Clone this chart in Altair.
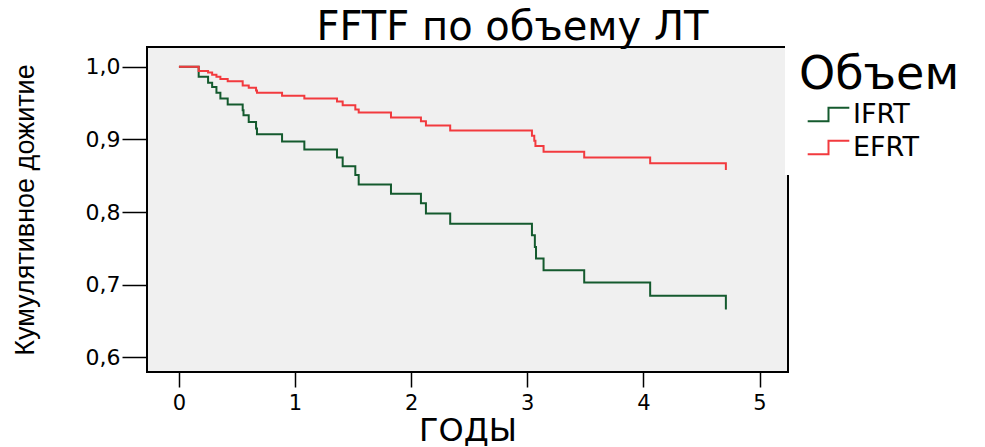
import altair as alt
import pandas as pd

# Kaplan-Meier estimates (years, cumulative survival) per group
ifrt_t = [0, 0.17, 0.251, 0.286, 0.323, 0.357, 0.42, 0.549, 0.556, 0.601, 0.664, 0.672,
          0.888, 1.08, 1.361, 1.41, 1.519, 1.548, 1.826, 2.084, 2.127, 2.336, 3.04,
          3.065, 3.075, 3.14, 3.49, 4.058, 4.71]
ifrt_s = [1.0, 0.986, 0.978, 0.972, 0.964, 0.956, 0.948, 0.940, 0.933, 0.924, 0.915, 0.907,
          0.897, 0.886, 0.875, 0.863, 0.851, 0.838, 0.825, 0.812, 0.798, 0.784, 0.768,
          0.752, 0.736, 0.720, 0.703, 0.685, 0.666]

efrt_t = [0, 0.17, 0.251, 0.286, 0.323, 0.357, 0.42, 0.549, 0.601, 0.664, 0.672, 0.888,
          1.08, 1.361, 1.41, 1.519, 1.548, 1.826, 2.084, 2.127, 2.336, 3.04, 3.06, 3.07,
          3.14, 3.49, 4.058, 4.71]
efrt_s = [1.0, 0.994, 0.992, 0.989, 0.986, 0.983, 0.980, 0.974, 0.971, 0.967, 0.964, 0.960,
          0.956, 0.952, 0.947, 0.941, 0.937, 0.930, 0.925, 0.919, 0.912, 0.905, 0.898, 0.891,
          0.883, 0.875, 0.867, 0.858]

groups = ["IFRT", "EFRT"]
colors = ["#145a2e", "#f23a3e"]
y_ticks = [0.6, 0.7, 0.8, 0.9, 1.0]
x_ticks = [0, 1, 2, 3, 4, 5]

df = pd.concat([
    pd.DataFrame({"t": ifrt_t, "s": ifrt_s, "g": "IFRT", "o": range(len(ifrt_t))}),
    pd.DataFrame({"t": efrt_t, "s": efrt_s, "g": "EFRT", "o": range(len(efrt_t))}),
])

WIDE = "DejaVu Sans"

chart = alt.Chart(df).mark_line(interpolate="step-after", strokeWidth=2, clip=True).encode(
    x=alt.X("t:Q",
            scale=alt.Scale(domain=[-0.275, 5.245], nice=False, zero=False),
            axis=alt.Axis(title="ГОДЫ", values=x_ticks, format="d", grid=False, domain=False,
                          tickSize=15, tickColor="black", tickWidth=1.5,
                          labelFont=WIDE, labelFontSize=21, labelColor="black", labelPadding=5,
                          titleFont=WIDE, titleFontSize=32, titleFontWeight="normal",
                          titleColor="black", titlePadding=2)),
    y=alt.Y("s:Q",
            scale=alt.Scale(domain=[0.58, 1.027], nice=False, zero=False),
            axis=alt.Axis(title="Кумулятивное дожитие", values=y_ticks,
                          labelExpr="replace(format(datum.value, '.1f'), '.', ',')",
                          grid=False, domain=False,
                          tickSize=25, tickColor="black", tickWidth=1.5,
                          labelFont=WIDE, labelFontSize=22, labelColor="black", labelPadding=2,
                          titleFont="Liberation Sans", titleFontSize=27,
                          titleFontWeight="normal", titleColor="black", titlePadding=46)),
    color=alt.Color("g:N", scale=alt.Scale(domain=groups, range=colors),
                    legend=alt.Legend(title="Объем", orient="none", legendX=638, legendY=-8,
                                      fillColor="white", padding=14,
                                      titleFont=WIDE, titleFontSize=46,
                                      titleFontWeight="normal", titleColor="black",
                                      titlePadding=2,
                                      labelFont=WIDE, labelFontSize=27, labelColor="black",
                                      labelOffset=11,
                                      symbolType="M-1.7,0.55H0V-0.55H1.7",
                                      symbolSize=600, symbolOffset=16,
                                      symbolStrokeWidth=2,
                                      rowPadding=5)),
    order="o:Q",
).properties(
    width=641,
    height=325,
    background="white",
    title=alt.TitleParams("FFTF по объему ЛТ", font=WIDE, fontSize=40, fontWeight="normal",
                          color="black", anchor="middle", dx=45, offset=0, dy=9),
    autosize=alt.AutoSizeParams(type="none"),
    padding={"left": 147, "top": 47, "right": 197, "bottom": 75},
).configure_view(
    fill="#f0f0f0", stroke="black", strokeWidth=2
)

chart.save("out.html", embed_options={"renderer": "svg", "actions": False})
